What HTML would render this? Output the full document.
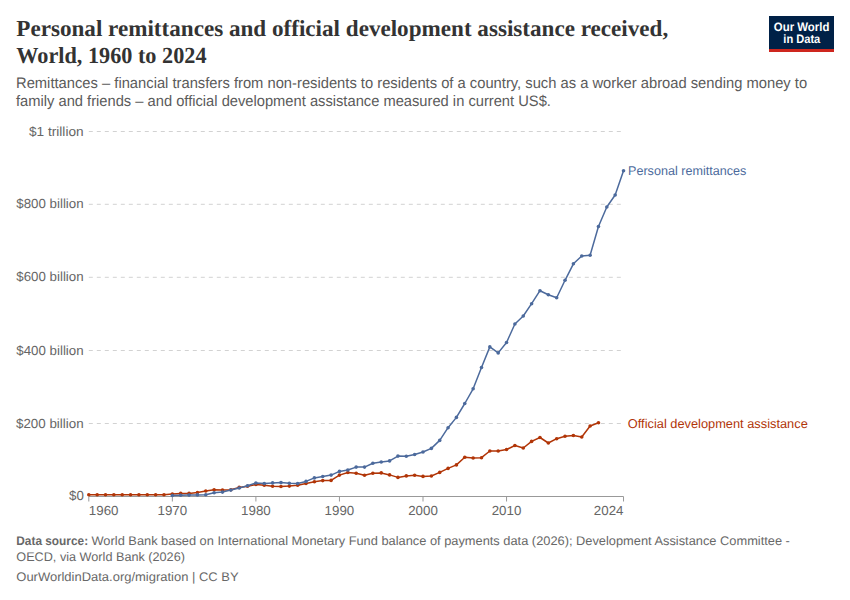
<!DOCTYPE html>
<html><head><meta charset="utf-8"><style>
html,body{margin:0;padding:0;background:#fff;width:850px;height:600px;overflow:hidden}
svg{display:block}
text{font-family:"Liberation Sans",sans-serif;text-rendering:geometricPrecision}
.ax{font-size:13.2px;fill:#666}
.lab{font-size:12.75px}
.title{font-family:"Liberation Serif",serif;font-weight:bold;font-size:23px;fill:#333}
.sub{font-size:15.2px;fill:#5b5b5b}
.foot{font-size:12.5px;fill:#686868}
.logo{font-size:12.2px;font-weight:bold;fill:#fff}
</style></head><body>
<svg width="850" height="600" viewBox="0 0 850 600">
<line x1="88.8" x2="621" y1="131.5" y2="131.5" stroke="#d2d2d2" stroke-width="1" stroke-dasharray="4,4"/>
<line x1="88.8" x2="621" y1="204.3" y2="204.3" stroke="#d2d2d2" stroke-width="1" stroke-dasharray="4,4"/>
<line x1="88.8" x2="621" y1="277.3" y2="277.3" stroke="#d2d2d2" stroke-width="1" stroke-dasharray="4,4"/>
<line x1="88.8" x2="621" y1="350.5" y2="350.5" stroke="#d2d2d2" stroke-width="1" stroke-dasharray="4,4"/>
<line x1="88.8" x2="621" y1="423.5" y2="423.5" stroke="#d2d2d2" stroke-width="1" stroke-dasharray="4,4"/>
<text x="83.6" y="135.5" text-anchor="end" class="ax" textLength="54.6" lengthAdjust="spacingAndGlyphs">$1 trillion</text>
<text x="83.6" y="208.3" text-anchor="end" class="ax" textLength="67.3" lengthAdjust="spacingAndGlyphs">$800 billion</text>
<text x="83.6" y="281.3" text-anchor="end" class="ax" textLength="67.3" lengthAdjust="spacingAndGlyphs">$600 billion</text>
<text x="83.6" y="354.5" text-anchor="end" class="ax" textLength="67.3" lengthAdjust="spacingAndGlyphs">$400 billion</text>
<text x="83.6" y="427.5" text-anchor="end" class="ax" textLength="67.6" lengthAdjust="spacingAndGlyphs">$200 billion</text>
<text x="83.8" y="500.3" text-anchor="end" class="ax" textLength="14.8" lengthAdjust="spacingAndGlyphs">$0</text>
<line x1="88.8" x2="623.5" y1="496.5" y2="496.5" stroke="#999" stroke-width="1"/>
<line x1="88.80" x2="88.80" y1="496.5" y2="501.5" stroke="#999" stroke-width="1"/>
<line x1="172.35" x2="172.35" y1="496.5" y2="501.5" stroke="#999" stroke-width="1"/>
<line x1="255.90" x2="255.90" y1="496.5" y2="501.5" stroke="#999" stroke-width="1"/>
<line x1="339.45" x2="339.45" y1="496.5" y2="501.5" stroke="#999" stroke-width="1"/>
<line x1="423.00" x2="423.00" y1="496.5" y2="501.5" stroke="#999" stroke-width="1"/>
<line x1="506.55" x2="506.55" y1="496.5" y2="501.5" stroke="#999" stroke-width="1"/>
<line x1="623.52" x2="623.52" y1="496.5" y2="501.5" stroke="#999" stroke-width="1"/>
<text x="88.80" y="514.7" text-anchor="start" class="ax" textLength="29.7" lengthAdjust="spacingAndGlyphs">1960</text>
<text x="172.35" y="514.7" text-anchor="middle" class="ax" textLength="29.7" lengthAdjust="spacingAndGlyphs">1970</text>
<text x="255.90" y="514.7" text-anchor="middle" class="ax" textLength="29.7" lengthAdjust="spacingAndGlyphs">1980</text>
<text x="339.45" y="514.7" text-anchor="middle" class="ax" textLength="29.7" lengthAdjust="spacingAndGlyphs">1990</text>
<text x="423.00" y="514.7" text-anchor="middle" class="ax" textLength="29.7" lengthAdjust="spacingAndGlyphs">2000</text>
<text x="506.55" y="514.7" text-anchor="middle" class="ax" textLength="29.7" lengthAdjust="spacingAndGlyphs">2010</text>
<text x="623.52" y="514.7" text-anchor="end" class="ax" textLength="29.7" lengthAdjust="spacingAndGlyphs">2024</text>
<polyline points="88.80,494.80 97.16,494.80 105.51,494.80 113.86,494.80 122.22,494.80 130.57,494.80 138.93,494.80 147.28,494.80 155.64,494.80 164.00,494.80 172.35,494.10 180.70,493.40 189.06,493.40 197.42,492.50 205.77,491.00 214.12,489.70 222.48,490.00 230.83,489.70 239.19,487.40 247.55,486.20 255.90,484.40 264.25,485.30 272.61,486.30 280.97,486.50 289.32,486.10 297.68,485.30 306.03,483.50 314.38,481.80 322.74,480.60 331.10,480.40 339.45,475.10 347.81,472.50 356.16,473.20 364.52,475.30 372.87,473.20 381.23,472.90 389.58,474.90 397.94,477.40 406.29,475.90 414.65,475.30 423.00,476.40 431.36,476.00 439.71,472.40 448.07,468.40 456.42,464.90 464.78,457.30 473.13,458.00 481.49,457.70 489.84,451.00 498.20,451.00 506.55,449.50 514.90,445.50 523.26,448.00 531.62,441.40 539.97,437.50 548.33,443.00 556.68,438.70 565.03,436.30 573.39,435.50 581.75,437.00 590.10,426.00 598.46,422.70" fill="none" stroke="#b13507" stroke-width="1.5" stroke-linejoin="round" stroke-linecap="round"/>
<circle cx="88.80" cy="494.80" r="1.8" fill="#b13507"/><circle cx="97.16" cy="494.80" r="1.8" fill="#b13507"/><circle cx="105.51" cy="494.80" r="1.8" fill="#b13507"/><circle cx="113.86" cy="494.80" r="1.8" fill="#b13507"/><circle cx="122.22" cy="494.80" r="1.8" fill="#b13507"/><circle cx="130.57" cy="494.80" r="1.8" fill="#b13507"/><circle cx="138.93" cy="494.80" r="1.8" fill="#b13507"/><circle cx="147.28" cy="494.80" r="1.8" fill="#b13507"/><circle cx="155.64" cy="494.80" r="1.8" fill="#b13507"/><circle cx="164.00" cy="494.80" r="1.8" fill="#b13507"/><circle cx="172.35" cy="494.10" r="1.8" fill="#b13507"/><circle cx="180.70" cy="493.40" r="1.8" fill="#b13507"/><circle cx="189.06" cy="493.40" r="1.8" fill="#b13507"/><circle cx="197.42" cy="492.50" r="1.8" fill="#b13507"/><circle cx="205.77" cy="491.00" r="1.8" fill="#b13507"/><circle cx="214.12" cy="489.70" r="1.8" fill="#b13507"/><circle cx="222.48" cy="490.00" r="1.8" fill="#b13507"/><circle cx="230.83" cy="489.70" r="1.8" fill="#b13507"/><circle cx="239.19" cy="487.40" r="1.8" fill="#b13507"/><circle cx="247.55" cy="486.20" r="1.8" fill="#b13507"/><circle cx="255.90" cy="484.40" r="1.8" fill="#b13507"/><circle cx="264.25" cy="485.30" r="1.8" fill="#b13507"/><circle cx="272.61" cy="486.30" r="1.8" fill="#b13507"/><circle cx="280.97" cy="486.50" r="1.8" fill="#b13507"/><circle cx="289.32" cy="486.10" r="1.8" fill="#b13507"/><circle cx="297.68" cy="485.30" r="1.8" fill="#b13507"/><circle cx="306.03" cy="483.50" r="1.8" fill="#b13507"/><circle cx="314.38" cy="481.80" r="1.8" fill="#b13507"/><circle cx="322.74" cy="480.60" r="1.8" fill="#b13507"/><circle cx="331.10" cy="480.40" r="1.8" fill="#b13507"/><circle cx="339.45" cy="475.10" r="1.8" fill="#b13507"/><circle cx="347.81" cy="472.50" r="1.8" fill="#b13507"/><circle cx="356.16" cy="473.20" r="1.8" fill="#b13507"/><circle cx="364.52" cy="475.30" r="1.8" fill="#b13507"/><circle cx="372.87" cy="473.20" r="1.8" fill="#b13507"/><circle cx="381.23" cy="472.90" r="1.8" fill="#b13507"/><circle cx="389.58" cy="474.90" r="1.8" fill="#b13507"/><circle cx="397.94" cy="477.40" r="1.8" fill="#b13507"/><circle cx="406.29" cy="475.90" r="1.8" fill="#b13507"/><circle cx="414.65" cy="475.30" r="1.8" fill="#b13507"/><circle cx="423.00" cy="476.40" r="1.8" fill="#b13507"/><circle cx="431.36" cy="476.00" r="1.8" fill="#b13507"/><circle cx="439.71" cy="472.40" r="1.8" fill="#b13507"/><circle cx="448.07" cy="468.40" r="1.8" fill="#b13507"/><circle cx="456.42" cy="464.90" r="1.8" fill="#b13507"/><circle cx="464.78" cy="457.30" r="1.8" fill="#b13507"/><circle cx="473.13" cy="458.00" r="1.8" fill="#b13507"/><circle cx="481.49" cy="457.70" r="1.8" fill="#b13507"/><circle cx="489.84" cy="451.00" r="1.8" fill="#b13507"/><circle cx="498.20" cy="451.00" r="1.8" fill="#b13507"/><circle cx="506.55" cy="449.50" r="1.8" fill="#b13507"/><circle cx="514.90" cy="445.50" r="1.8" fill="#b13507"/><circle cx="523.26" cy="448.00" r="1.8" fill="#b13507"/><circle cx="531.62" cy="441.40" r="1.8" fill="#b13507"/><circle cx="539.97" cy="437.50" r="1.8" fill="#b13507"/><circle cx="548.33" cy="443.00" r="1.8" fill="#b13507"/><circle cx="556.68" cy="438.70" r="1.8" fill="#b13507"/><circle cx="565.03" cy="436.30" r="1.8" fill="#b13507"/><circle cx="573.39" cy="435.50" r="1.8" fill="#b13507"/><circle cx="581.75" cy="437.00" r="1.8" fill="#b13507"/><circle cx="590.10" cy="426.00" r="1.8" fill="#b13507"/><circle cx="598.46" cy="422.70" r="1.8" fill="#b13507"/>

<polyline points="172.35,495.50 180.70,495.30 189.06,495.10 197.42,494.90 205.77,494.70 214.12,492.80 222.48,492.10 230.83,490.10 239.19,488.00 247.55,485.80 255.90,483.00 264.25,483.50 272.61,482.90 280.97,482.60 289.32,483.20 297.68,483.50 306.03,481.40 314.38,477.90 322.74,476.50 331.10,475.10 339.45,471.40 347.81,470.00 356.16,467.10 364.52,467.10 372.87,463.20 381.23,462.00 389.58,460.90 397.94,456.10 406.29,456.20 414.65,454.50 423.00,452.00 431.36,448.40 439.71,440.40 448.07,427.70 456.42,417.40 464.78,403.50 473.13,388.80 481.49,367.50 489.84,346.90 498.20,352.90 506.55,342.50 514.90,324.00 523.26,316.00 531.62,303.70 539.97,290.70 548.33,294.70 556.68,297.80 565.03,280.30 573.39,263.80 581.75,256.00 590.10,255.20 598.46,226.50 606.81,207.00 615.16,195.00 623.52,170.70" fill="none" stroke="#4c6a9c" stroke-width="1.5" stroke-linejoin="round" stroke-linecap="round"/>
<circle cx="172.35" cy="495.50" r="1.8" fill="#4c6a9c"/><circle cx="180.70" cy="495.30" r="1.8" fill="#4c6a9c"/><circle cx="189.06" cy="495.10" r="1.8" fill="#4c6a9c"/><circle cx="197.42" cy="494.90" r="1.8" fill="#4c6a9c"/><circle cx="205.77" cy="494.70" r="1.8" fill="#4c6a9c"/><circle cx="214.12" cy="492.80" r="1.8" fill="#4c6a9c"/><circle cx="222.48" cy="492.10" r="1.8" fill="#4c6a9c"/><circle cx="230.83" cy="490.10" r="1.8" fill="#4c6a9c"/><circle cx="239.19" cy="488.00" r="1.8" fill="#4c6a9c"/><circle cx="247.55" cy="485.80" r="1.8" fill="#4c6a9c"/><circle cx="255.90" cy="483.00" r="1.8" fill="#4c6a9c"/><circle cx="264.25" cy="483.50" r="1.8" fill="#4c6a9c"/><circle cx="272.61" cy="482.90" r="1.8" fill="#4c6a9c"/><circle cx="280.97" cy="482.60" r="1.8" fill="#4c6a9c"/><circle cx="289.32" cy="483.20" r="1.8" fill="#4c6a9c"/><circle cx="297.68" cy="483.50" r="1.8" fill="#4c6a9c"/><circle cx="306.03" cy="481.40" r="1.8" fill="#4c6a9c"/><circle cx="314.38" cy="477.90" r="1.8" fill="#4c6a9c"/><circle cx="322.74" cy="476.50" r="1.8" fill="#4c6a9c"/><circle cx="331.10" cy="475.10" r="1.8" fill="#4c6a9c"/><circle cx="339.45" cy="471.40" r="1.8" fill="#4c6a9c"/><circle cx="347.81" cy="470.00" r="1.8" fill="#4c6a9c"/><circle cx="356.16" cy="467.10" r="1.8" fill="#4c6a9c"/><circle cx="364.52" cy="467.10" r="1.8" fill="#4c6a9c"/><circle cx="372.87" cy="463.20" r="1.8" fill="#4c6a9c"/><circle cx="381.23" cy="462.00" r="1.8" fill="#4c6a9c"/><circle cx="389.58" cy="460.90" r="1.8" fill="#4c6a9c"/><circle cx="397.94" cy="456.10" r="1.8" fill="#4c6a9c"/><circle cx="406.29" cy="456.20" r="1.8" fill="#4c6a9c"/><circle cx="414.65" cy="454.50" r="1.8" fill="#4c6a9c"/><circle cx="423.00" cy="452.00" r="1.8" fill="#4c6a9c"/><circle cx="431.36" cy="448.40" r="1.8" fill="#4c6a9c"/><circle cx="439.71" cy="440.40" r="1.8" fill="#4c6a9c"/><circle cx="448.07" cy="427.70" r="1.8" fill="#4c6a9c"/><circle cx="456.42" cy="417.40" r="1.8" fill="#4c6a9c"/><circle cx="464.78" cy="403.50" r="1.8" fill="#4c6a9c"/><circle cx="473.13" cy="388.80" r="1.8" fill="#4c6a9c"/><circle cx="481.49" cy="367.50" r="1.8" fill="#4c6a9c"/><circle cx="489.84" cy="346.90" r="1.8" fill="#4c6a9c"/><circle cx="498.20" cy="352.90" r="1.8" fill="#4c6a9c"/><circle cx="506.55" cy="342.50" r="1.8" fill="#4c6a9c"/><circle cx="514.90" cy="324.00" r="1.8" fill="#4c6a9c"/><circle cx="523.26" cy="316.00" r="1.8" fill="#4c6a9c"/><circle cx="531.62" cy="303.70" r="1.8" fill="#4c6a9c"/><circle cx="539.97" cy="290.70" r="1.8" fill="#4c6a9c"/><circle cx="548.33" cy="294.70" r="1.8" fill="#4c6a9c"/><circle cx="556.68" cy="297.80" r="1.8" fill="#4c6a9c"/><circle cx="565.03" cy="280.30" r="1.8" fill="#4c6a9c"/><circle cx="573.39" cy="263.80" r="1.8" fill="#4c6a9c"/><circle cx="581.75" cy="256.00" r="1.8" fill="#4c6a9c"/><circle cx="590.10" cy="255.20" r="1.8" fill="#4c6a9c"/><circle cx="598.46" cy="226.50" r="1.8" fill="#4c6a9c"/><circle cx="606.81" cy="207.00" r="1.8" fill="#4c6a9c"/><circle cx="615.16" cy="195.00" r="1.8" fill="#4c6a9c"/><circle cx="623.52" cy="170.70" r="1.8" fill="#4c6a9c"/>

<text x="628" y="175.4" class="lab" textLength="118.3" lengthAdjust="spacingAndGlyphs" fill="#4c6a9c">Personal remittances</text>
<text x="627.8" y="427.5" class="lab" textLength="180.0" lengthAdjust="spacingAndGlyphs" fill="#b13507">Official development assistance</text>
<text x="16.3" y="36.2" class="title" textLength="651.9" lengthAdjust="spacingAndGlyphs">Personal remittances and official development assistance received,</text>
<text x="16.3" y="62.6" class="title" textLength="190.2" lengthAdjust="spacingAndGlyphs">World, 1960 to 2024</text>
<text x="16" y="88" class="sub" textLength="791.1" lengthAdjust="spacingAndGlyphs">Remittances – financial transfers from non-residents to residents of a country, such as a worker abroad sending money to</text>
<text x="16" y="105.6" class="sub" textLength="534.9" lengthAdjust="spacingAndGlyphs">family and friends – and official development assistance measured in current US$.</text>
<text x="16.3" y="545" class="foot" textLength="71.8" lengthAdjust="spacingAndGlyphs" font-weight="bold">Data source:</text>
<text x="91.5" y="545" class="foot" textLength="698.4" lengthAdjust="spacingAndGlyphs">World Bank based on International Monetary Fund balance of payments data (2026); Development Assistance Committee -</text>
<text x="16.3" y="561" class="foot" textLength="168.6" lengthAdjust="spacingAndGlyphs">OECD, via World Bank (2026)</text>
<text x="16.3" y="580.8" class="foot" textLength="222.3" lengthAdjust="spacingAndGlyphs">OurWorldinData.org/migration | CC BY</text>
<rect x="769" y="16" width="65" height="36" fill="#002147"/>
<rect x="769" y="49" width="65" height="3" fill="#ce261e"/>
<text x="801.6" y="30.9" text-anchor="middle" class="logo" textLength="55.5" lengthAdjust="spacingAndGlyphs">Our World</text>
<text x="801.8" y="42.6" text-anchor="middle" class="logo" textLength="37.0" lengthAdjust="spacingAndGlyphs">in Data</text>
</svg>
</body></html>
